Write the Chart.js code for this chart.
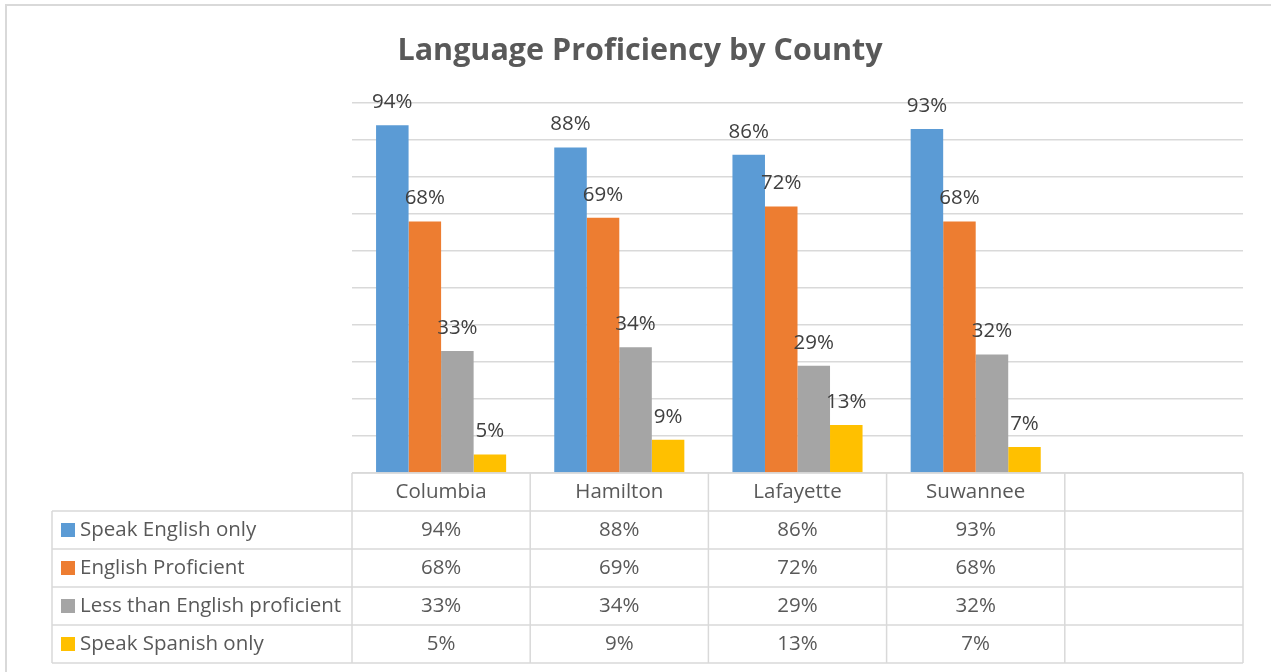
<!DOCTYPE html>
<html>
<head>
<meta charset="utf-8">
<script src="https://cdn.jsdelivr.net/npm/chart.js@4/dist/chart.umd.min.js"></script>
<style>
  html, body { margin: 0; padding: 0; background: #fff; }
  canvas { display: block; }
</style>
</head>
<body>
<canvas id="chart" width="1271" height="672"></canvas>
<script>
const counties = ['Columbia', 'Hamilton', 'Lafayette', 'Suwannee', ''];
const seriesNames = ['Speak English only', 'English Proficient', 'Less than English proficient', 'Speak Spanish only'];
const speakEnglishOnly = [94, 88, 86, 93, null];
const englishProficient = [68, 69, 72, 68, null];
const lessThanProficient = [33, 34, 29, 32, null];
const speakSpanishOnly = [5, 9, 13, 7, null];
const yMax = 100;
const yStep = 10;

const colors = ['#5B9BD5', '#ED7D31', '#A5A5A5', '#FFC000'];
const seriesValues = [speakEnglishOnly, englishProficient, lessThanProficient, speakSpanishOnly];

const bodyFont = "'Open Sans', 'Liberation Sans', sans-serif";
const gridColor = '#d9d9d9';

// title, bar labels and the data table under the plot
const extras = {
    id: 'extras',
    afterDraw(chart) {
        const ctx = chart.ctx;
        const x = chart.scales.x;
        const area = chart.chartArea;
        ctx.save();

        // outer frame
        ctx.strokeStyle = gridColor;
        ctx.lineWidth = 2;
        ctx.strokeRect(6, 5, chart.width + 20, chart.height + 20);

        // title
        ctx.fillStyle = '#595959';
        ctx.font = 'bold 30.5px ' + bodyFont;
        ctx.textAlign = 'center';
        ctx.textBaseline = 'alphabetic';
        ctx.fillText('Language Proficiency by County', 640, 60);

        // value labels above bars
        ctx.fillStyle = '#404040';
        ctx.font = '20.5px ' + bodyFont;
        ctx.textBaseline = 'middle';
        chart.data.datasets.forEach((ds, d) => {
            chart.getDatasetMeta(d).data.forEach((bar, i) => {
                if (ds.data[i] == null) return;
                ctx.fillText(ds.data[i] + '%', bar.x, bar.y - 23);
            });
        });

        // data table
        const rowH = 38;
        const catW = (x.right - x.left) / counties.length;
        const top = area.bottom;
        const tableLeft = 52;
        const bottom = top + rowH * (seriesNames.length + 1);

        ctx.strokeStyle = gridColor;
        ctx.lineWidth = 1.5;
        ctx.beginPath();
        ctx.moveTo(x.left, top);
        ctx.lineTo(x.right, top);
        for (let r = 1; r <= seriesNames.length + 1; r++) {
            ctx.moveTo(tableLeft, top + rowH * r);
            ctx.lineTo(x.right, top + rowH * r);
        }
        ctx.moveTo(tableLeft, top + rowH);
        ctx.lineTo(tableLeft, bottom);
        for (let c = 0; c <= counties.length; c++) {
            const cx = x.left + catW * c;
            ctx.moveTo(cx, top);
            ctx.lineTo(cx, bottom);
        }
        ctx.stroke();

        ctx.font = '20.5px ' + bodyFont;
        ctx.fillStyle = '#595959';
        ctx.textAlign = 'center';
        counties.forEach((name, i) => {
            ctx.fillText(name, x.getPixelForValue(i), top + rowH / 2);
        });

        seriesNames.forEach((name, r) => {
            const cy = top + rowH * (r + 1) + rowH / 2;
            ctx.fillStyle = colors[r];
            ctx.fillRect(61, cy - 7, 14, 14);
            ctx.fillStyle = '#595959';
            ctx.textAlign = 'left';
            ctx.fillText(name, 80, cy);
            ctx.textAlign = 'center';
            seriesValues[r].forEach((v, i) => {
                if (v == null) return;
                ctx.fillText(v + '%', x.getPixelForValue(i), cy);
            });
        });
        ctx.restore();
    }
};

new Chart(document.getElementById('chart').getContext('2d'), {
    type: 'bar',
    data: {
        labels: counties,
        datasets: seriesNames.map((name, i) => ({
            label: name,
            data: seriesValues[i],
            backgroundColor: colors[i],
            borderWidth: 0,
            categoryPercentage: 0.73,
            barPercentage: 1.0
        }))
    },
    options: {
        responsive: false,
        animation: false,
        devicePixelRatio: 1,
        layout: {
            padding: { left: 352, right: 28, top: 103, bottom: 199 }
        },
        scales: {
            x: { display: false },
            y: {
                min: 0,
                max: yMax,
                ticks: { display: false, stepSize: yStep },
                grid: { color: gridColor, lineWidth: 1.5, drawTicks: false },
                border: { display: false }
            }
        },
        plugins: {
            legend: { display: false },
            tooltip: { enabled: false }
        }
    },
    plugins: [extras]
});
</script>
</body>
</html>
